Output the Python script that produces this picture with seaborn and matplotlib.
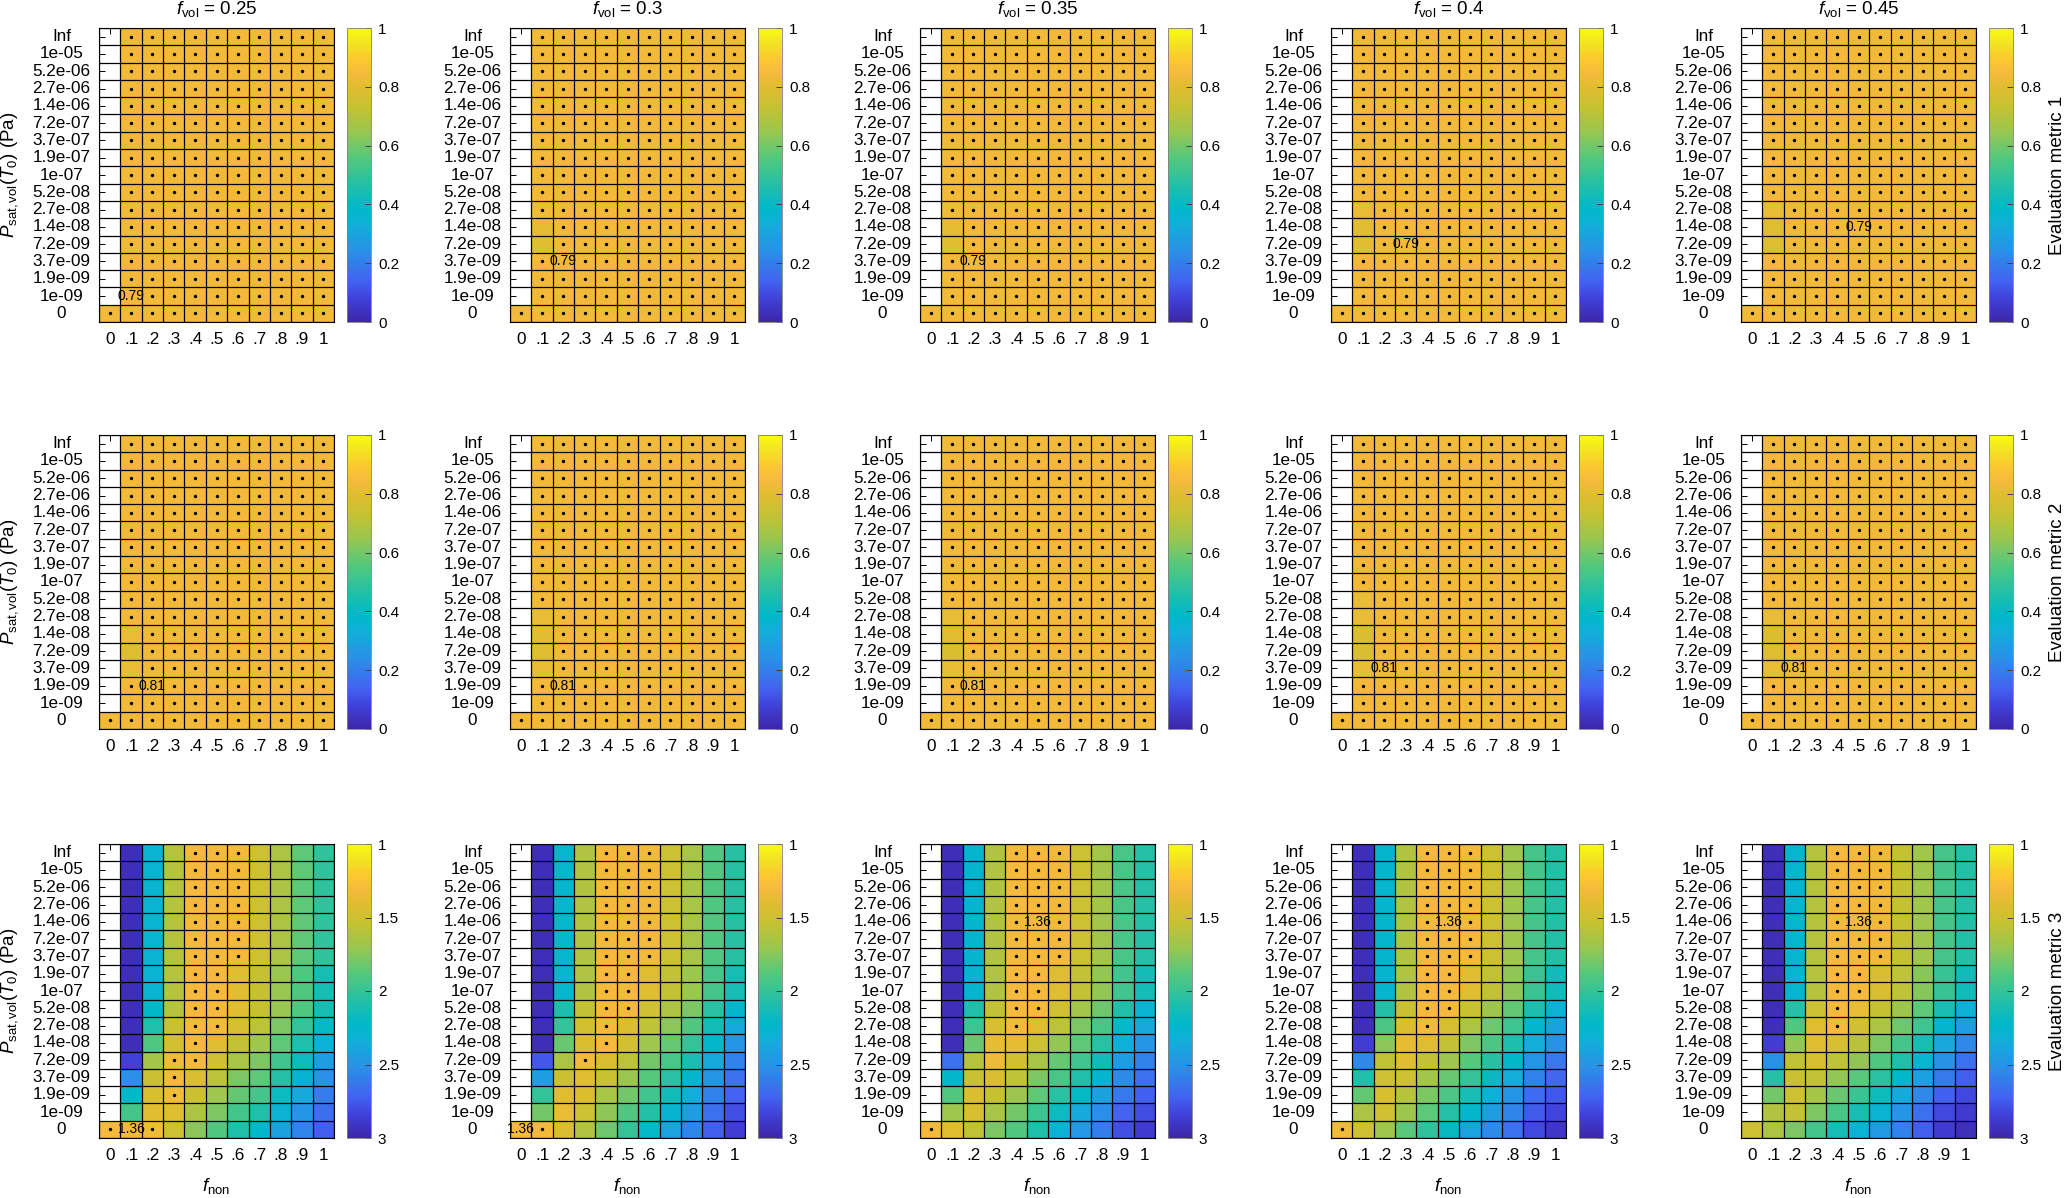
import numpy as np
import pandas as pd
import matplotlib
matplotlib.use('Agg')
import matplotlib.pyplot as plt
import seaborn as sns
from matplotlib.colors import LinearSegmentedColormap

plt.rcParams['font.family'] = ['Liberation Sans', 'DejaVu Sans']
plt.rcParams['mathtext.fontset'] = 'custom'
plt.rcParams['mathtext.rm'] = 'Liberation Sans'
plt.rcParams['mathtext.it'] = 'Liberation Sans:italic'

N = np.nan

# ---------------- data ----------------
F_VOL = [0.25, 0.3, 0.35, 0.4, 0.45]
F_NON = ['0', '.1', '.2', '.3', '.4', '.5', '.6', '.7', '.8', '.9', '1']
P_SAT = ['Inf', '1e-05', '5.2e-06', '2.7e-06', '1.4e-06', '7.2e-07', '3.7e-07',
         '1.9e-07', '1e-07', '5.2e-08', '2.7e-08', '1.4e-08', '7.2e-09',
         '3.7e-09', '1.9e-09', '1e-09', '0']
METRIC_NAMES = ['Evaluation metric 1', 'Evaluation metric 2', 'Evaluation metric 3']

# metrics 1 and 2 are nearly flat: one bulk value, plus the columns that differ
M1_BULK = 0.84
M2_BULK = 0.84
M12_COL0 = [N, N, N, N, N, N, N, N, N, N, N, N, N, N, N, N, 0.84]

M1_VARIED = {
    0.25: {'.1': [0.84, 0.84, 0.84, 0.84, 0.84, 0.84, 0.84, 0.84, 0.84, 0.84, 0.835, 0.835, 0.832, 0.84, 0.84, 0.84, 0.84]},
    0.3: {'.1': [0.84, 0.84, 0.84, 0.84, 0.84, 0.84, 0.84, 0.84, 0.84, 0.84, 0.835, 0.81, 0.80, 0.84, 0.84, 0.84, 0.84]},
    0.35: {'.1': [0.84, 0.84, 0.84, 0.84, 0.84, 0.84, 0.84, 0.84, 0.84, 0.84, 0.835, 0.805, 0.80, 0.84, 0.84, 0.84, 0.84]},
    0.4: {'.1': [0.84, 0.84, 0.84, 0.84, 0.84, 0.84, 0.84, 0.84, 0.84, 0.84, 0.82, 0.80, 0.80, 0.84, 0.84, 0.84, 0.84]},
    0.45: {'.1': [0.84, 0.84, 0.84, 0.84, 0.84, 0.84, 0.84, 0.84, 0.84, 0.84, 0.82, 0.795, 0.79, 0.84, 0.84, 0.84, 0.84],
           '.7': [0.84, 0.835, 0.835, 0.835, 0.835, 0.84, 0.84, 0.84, 0.84, 0.84, 0.84, 0.84, 0.84, 0.84, 0.84, 0.84, 0.84]},
}
M2_VARIED = {
    0.25: {'.1': [0.84, 0.84, 0.84, 0.84, 0.84, 0.84, 0.84, 0.84, 0.84, 0.84, 0.84, 0.815, 0.79, 0.82, 0.84, 0.84, 0.84]},
    0.3: {'.1': [0.84, 0.84, 0.84, 0.84, 0.84, 0.84, 0.84, 0.84, 0.84, 0.84, 0.82, 0.80, 0.79, 0.82, 0.84, 0.84, 0.84]},
    0.35: {'.1': [0.84, 0.84, 0.84, 0.84, 0.84, 0.84, 0.84, 0.84, 0.84, 0.84, 0.82, 0.79, 0.785, 0.82, 0.84, 0.84, 0.84]},
    0.4: {'.1': [0.84, 0.84, 0.84, 0.84, 0.84, 0.84, 0.84, 0.84, 0.84, 0.82, 0.82, 0.78, 0.78, 0.82, 0.84, 0.84, 0.84]},
    0.45: {'.1': [0.84, 0.84, 0.84, 0.84, 0.84, 0.84, 0.84, 0.84, 0.84, 0.84, 0.82, 0.785, 0.79, 0.82, 0.84, 0.84, 0.84]},
}

# metric 3, rows Inf ... 0, columns f_non 0 ... 1
M3_025 = [
    [N, 2.95, 2.28, 1.60, 1.31, 1.31, 1.32, 1.50, 1.64, 1.86, 2.02],
    [N, 2.95, 2.28, 1.60, 1.31, 1.31, 1.32, 1.50, 1.64, 1.86, 2.02],
    [N, 2.95, 2.28, 1.60, 1.31, 1.31, 1.32, 1.50, 1.64, 1.86, 2.02],
    [N, 2.95, 2.28, 1.60, 1.31, 1.31, 1.32, 1.50, 1.64, 1.86, 2.02],
    [N, 2.95, 2.28, 1.60, 1.31, 1.31, 1.32, 1.50, 1.64, 1.86, 2.02],
    [N, 2.95, 2.28, 1.60, 1.31, 1.31, 1.32, 1.50, 1.64, 1.86, 2.02],
    [N, 2.95, 2.28, 1.60, 1.31, 1.31, 1.32, 1.50, 1.64, 1.86, 2.02],
    [N, 2.95, 2.28, 1.60, 1.31, 1.31, 1.40, 1.54, 1.71, 1.90, 2.12],
    [N, 2.95, 2.28, 1.60, 1.31, 1.31, 1.40, 1.54, 1.71, 1.90, 2.12],
    [N, 2.95, 2.22, 1.60, 1.31, 1.31, 1.40, 1.54, 1.71, 1.90, 2.12],
    [N, 2.95, 2.08, 1.53, 1.31, 1.31, 1.46, 1.58, 1.78, 2.00, 2.20],
    [N, 2.95, 1.90, 1.47, 1.31, 1.42, 1.55, 1.68, 1.86, 2.08, 2.32],
    [N, 2.85, 1.66, 1.33, 1.31, 1.48, 1.65, 1.78, 1.96, 2.17, 2.44],
    [N, 2.52, 1.52, 1.33, 1.43, 1.58, 1.78, 1.86, 2.06, 2.27, 2.52],
    [N, 2.22, 1.46, 1.33, 1.52, 1.68, 1.85, 1.95, 2.17, 2.38, 2.60],
    [N, 1.95, 1.40, 1.42, 1.63, 1.78, 1.95, 2.08, 2.30, 2.48, 2.67],
    [1.30, 1.32, 1.33, 1.50, 1.74, 1.90, 2.08, 2.22, 2.42, 2.57, 2.74],
]
M3_030 = [
    [N, 2.95, 2.26, 1.62, 1.31, 1.31, 1.32, 1.51, 1.65, 1.90, 2.05],
    [N, 2.95, 2.26, 1.62, 1.31, 1.31, 1.32, 1.51, 1.65, 1.90, 2.05],
    [N, 2.95, 2.26, 1.62, 1.31, 1.31, 1.32, 1.51, 1.65, 1.90, 2.05],
    [N, 2.95, 2.26, 1.62, 1.31, 1.31, 1.32, 1.51, 1.65, 1.90, 2.05],
    [N, 2.95, 2.26, 1.62, 1.31, 1.31, 1.32, 1.51, 1.65, 1.90, 2.05],
    [N, 2.95, 2.26, 1.62, 1.31, 1.31, 1.32, 1.51, 1.65, 1.90, 2.05],
    [N, 2.95, 2.26, 1.62, 1.31, 1.31, 1.32, 1.51, 1.65, 1.90, 2.05],
    [N, 2.95, 2.26, 1.62, 1.31, 1.31, 1.41, 1.55, 1.70, 1.94, 2.13],
    [N, 2.95, 2.26, 1.62, 1.31, 1.31, 1.41, 1.55, 1.70, 1.94, 2.13],
    [N, 2.95, 2.10, 1.55, 1.31, 1.31, 1.48, 1.64, 1.78, 2.04, 2.24],
    [N, 2.95, 2.00, 1.47, 1.31, 1.43, 1.57, 1.74, 1.90, 2.14, 2.37],
    [N, 2.95, 1.83, 1.43, 1.31, 1.48, 1.68, 1.84, 2.00, 2.24, 2.48],
    [N, 2.76, 1.64, 1.32, 1.44, 1.58, 1.80, 1.93, 2.11, 2.37, 2.58],
    [N, 2.44, 1.52, 1.40, 1.53, 1.71, 1.88, 2.04, 2.23, 2.48, 2.66],
    [N, 2.00, 1.42, 1.43, 1.65, 1.80, 1.96, 2.14, 2.35, 2.58, 2.72],
    [N, 1.80, 1.37, 1.51, 1.73, 1.90, 2.07, 2.27, 2.45, 2.66, 2.79],
    [1.31, 1.32, 1.44, 1.62, 1.82, 2.00, 2.21, 2.41, 2.57, 2.74, 2.86],
]
M3_035 = [
    [N, 2.95, 2.25, 1.62, 1.31, 1.31, 1.32, 1.51, 1.67, 1.93, 2.06],
    [N, 2.95, 2.25, 1.62, 1.31, 1.31, 1.32, 1.51, 1.67, 1.93, 2.06],
    [N, 2.95, 2.25, 1.62, 1.31, 1.31, 1.32, 1.51, 1.67, 1.93, 2.06],
    [N, 2.95, 2.25, 1.62, 1.31, 1.31, 1.32, 1.51, 1.67, 1.93, 2.06],
    [N, 2.95, 2.25, 1.62, 1.31, 1.31, 1.32, 1.51, 1.67, 1.93, 2.06],
    [N, 2.95, 2.25, 1.62, 1.31, 1.31, 1.32, 1.51, 1.67, 1.93, 2.06],
    [N, 2.95, 2.25, 1.62, 1.31, 1.31, 1.32, 1.51, 1.67, 1.93, 2.06],
    [N, 2.95, 2.25, 1.62, 1.31, 1.31, 1.42, 1.55, 1.72, 1.96, 2.14],
    [N, 2.95, 2.25, 1.62, 1.31, 1.31, 1.42, 1.55, 1.72, 1.96, 2.14],
    [N, 2.95, 2.08, 1.55, 1.31, 1.31, 1.49, 1.67, 1.82, 2.08, 2.28],
    [N, 2.95, 1.97, 1.45, 1.31, 1.42, 1.58, 1.78, 1.93, 2.21, 2.38],
    [N, 2.95, 1.83, 1.38, 1.39, 1.51, 1.72, 1.86, 2.04, 2.32, 2.48],
    [N, 2.66, 1.60, 1.34, 1.47, 1.65, 1.83, 1.96, 2.15, 2.44, 2.58],
    [N, 2.24, 1.52, 1.43, 1.57, 1.78, 1.93, 2.08, 2.25, 2.55, 2.66],
    [N, 1.90, 1.44, 1.54, 1.69, 1.86, 2.04, 2.20, 2.42, 2.62, 2.73],
    [N, 1.68, 1.45, 1.65, 1.80, 1.97, 2.17, 2.36, 2.53, 2.72, 2.80],
    [1.31, 1.41, 1.56, 1.78, 1.90, 2.08, 2.29, 2.47, 2.60, 2.79, 2.88],
]
M3_040 = [
    [N, 2.95, 2.25, 1.62, 1.31, 1.31, 1.32, 1.51, 1.68, 1.94, 2.07],
    [N, 2.95, 2.25, 1.62, 1.31, 1.31, 1.32, 1.51, 1.68, 1.94, 2.07],
    [N, 2.95, 2.25, 1.62, 1.31, 1.31, 1.32, 1.51, 1.68, 1.94, 2.07],
    [N, 2.95, 2.25, 1.62, 1.31, 1.31, 1.32, 1.51, 1.68, 1.94, 2.07],
    [N, 2.95, 2.25, 1.62, 1.31, 1.31, 1.32, 1.51, 1.68, 1.94, 2.07],
    [N, 2.95, 2.25, 1.62, 1.31, 1.31, 1.32, 1.51, 1.68, 1.94, 2.07],
    [N, 2.95, 2.25, 1.62, 1.31, 1.31, 1.32, 1.51, 1.68, 1.94, 2.07],
    [N, 2.95, 2.25, 1.62, 1.31, 1.31, 1.42, 1.56, 1.73, 1.98, 2.15],
    [N, 2.95, 2.25, 1.62, 1.31, 1.31, 1.42, 1.56, 1.73, 1.98, 2.15],
    [N, 2.95, 2.07, 1.52, 1.31, 1.31, 1.53, 1.69, 1.85, 2.10, 2.30],
    [N, 2.95, 1.92, 1.43, 1.31, 1.46, 1.64, 1.82, 1.97, 2.23, 2.42],
    [N, 2.86, 1.74, 1.38, 1.42, 1.55, 1.78, 1.92, 2.10, 2.35, 2.50],
    [N, 2.55, 1.56, 1.40, 1.55, 1.69, 1.88, 2.05, 2.22, 2.48, 2.62],
    [N, 2.08, 1.50, 1.50, 1.67, 1.83, 2.00, 2.18, 2.35, 2.58, 2.70],
    [N, 1.85, 1.46, 1.60, 1.78, 1.92, 2.11, 2.31, 2.48, 2.68, 2.76],
    [N, 1.64, 1.48, 1.69, 1.86, 2.06, 2.24, 2.44, 2.57, 2.75, 2.83],
    [1.33, 1.50, 1.68, 1.87, 2.02, 2.18, 2.40, 2.55, 2.66, 2.82, 2.90],
]
M3_045 = [
    [N, 2.95, 2.26, 1.60, 1.31, 1.31, 1.32, 1.54, 1.68, 1.94, 2.07],
    [N, 2.95, 2.26, 1.60, 1.31, 1.31, 1.32, 1.54, 1.68, 1.94, 2.07],
    [N, 2.95, 2.26, 1.60, 1.31, 1.31, 1.32, 1.54, 1.68, 1.94, 2.07],
    [N, 2.95, 2.26, 1.60, 1.31, 1.31, 1.32, 1.54, 1.68, 1.94, 2.07],
    [N, 2.95, 2.26, 1.60, 1.31, 1.31, 1.32, 1.54, 1.68, 1.94, 2.07],
    [N, 2.95, 2.26, 1.60, 1.31, 1.31, 1.32, 1.54, 1.68, 1.94, 2.07],
    [N, 2.95, 2.26, 1.60, 1.31, 1.31, 1.32, 1.54, 1.68, 1.94, 2.07],
    [N, 2.95, 2.26, 1.60, 1.31, 1.31, 1.44, 1.57, 1.75, 1.99, 2.15],
    [N, 2.95, 2.26, 1.60, 1.31, 1.31, 1.44, 1.57, 1.75, 1.99, 2.15],
    [N, 2.95, 2.06, 1.51, 1.31, 1.37, 1.54, 1.69, 1.86, 2.11, 2.30],
    [N, 2.95, 1.90, 1.42, 1.31, 1.48, 1.64, 1.82, 1.97, 2.25, 2.43],
    [N, 2.86, 1.72, 1.41, 1.46, 1.59, 1.78, 1.94, 2.12, 2.38, 2.55],
    [N, 2.50, 1.56, 1.45, 1.57, 1.73, 1.90, 2.08, 2.26, 2.50, 2.66],
    [N, 2.06, 1.52, 1.55, 1.72, 1.87, 2.04, 2.22, 2.42, 2.62, 2.74],
    [N, 1.80, 1.51, 1.66, 1.83, 1.98, 2.16, 2.36, 2.55, 2.73, 2.82],
    [N, 1.62, 1.55, 1.78, 1.93, 2.12, 2.29, 2.48, 2.66, 2.82, 2.88],
    [1.50, 1.64, 1.78, 1.95, 2.13, 2.29, 2.46, 2.58, 2.74, 2.88, 2.94],
]
M3_GRIDS = [M3_025, M3_030, M3_035, M3_040, M3_045]

# best cell per panel (row label, column label) and its printed value
M1_BEST = [('1e-09', '.1'), ('3.7e-09', '.2'), ('3.7e-09', '.2'), ('7.2e-09', '.3'), ('1.4e-08', '.5')]
M2_BEST = [('1.9e-09', '.2'), ('1.9e-09', '.2'), ('1.9e-09', '.2'), ('3.7e-09', '.2'), ('3.7e-09', '.2')]
M3_BEST = [('0', '.1'), ('0', '0'), ('1.4e-06', '.5'), ('1.4e-06', '.5'), ('1.4e-06', '.5')]
BEST_TEXT = ['0.79', '0.81', '1.36']

# cells close to the best get a dot
DOT_MIN_M12 = 0.83
DOT_MAX_M3 = 1.335

CBAR_TICKS = [[0, 0.2, 0.4, 0.6, 0.8, 1], [0, 0.2, 0.4, 0.6, 0.8, 1], [1, 1.5, 2, 2.5, 3]]
CBAR_LABELS = [['0', '0.2', '0.4', '0.6', '0.8', '1'], ['0', '0.2', '0.4', '0.6', '0.8', '1'],
               ['1', '1.5', '2', '2.5', '3']]

# ---------------- style ----------------
parula = LinearSegmentedColormap.from_list('parula', [
    (0.00, '#3e26a8'), (0.075, '#4040d8'), (0.14, '#4264f0'), (0.24, '#2a90e8'),
    (0.335, '#10b0d8'), (0.39, '#00b8c8'), (0.47, '#25c0a5'), (0.56, '#55c87c'),
    (0.65, '#9ac650'), (0.73, '#c5c232'), (0.80, '#e1bd30'), (0.85, '#f6ba3c'),
    (0.90, '#fcca30'), (0.95, '#f3e423'), (1.00, '#f9fb0e')])

W, H = 2067, 1198
COL_LEFT = [99, 510, 920, 1331, 1741]
ROW_TOP = [28, 435, 844]
AX_W, AX_H = 235, 294
CB_DX, CB_W = 248, 24


def flat_grid(bulk, varied):
    df = pd.DataFrame(bulk, index=P_SAT, columns=F_NON)
    df['0'] = M12_COL0
    for col, vals in varied.items():
        df[col] = vals
    return df


fig = plt.figure(figsize=(W / 100, H / 100), dpi=100)

for i in range(3):
    for j, fv in enumerate(F_VOL):
        if i == 0:
            df = flat_grid(M1_BULK, M1_VARIED[fv])
            best = M1_BEST[j]
        elif i == 1:
            df = flat_grid(M2_BULK, M2_VARIED[fv])
            best = M2_BEST[j]
        else:
            df = pd.DataFrame(M3_GRIDS[j], index=P_SAT, columns=F_NON)
            best = M3_BEST[j]

        left, top = COL_LEFT[j], ROW_TOP[i]
        ax = fig.add_axes([left / W, 1 - (top + AX_H) / H, AX_W / W, AX_H / H])
        cax = fig.add_axes([(left + CB_DX) / W, 1 - (top + AX_H) / H, CB_W / W, AX_H / H])

        if i < 2:
            sns.heatmap(df, ax=ax, cbar_ax=cax, cmap=parula, vmin=0, vmax=1,
                        mask=df.isna(), linewidths=0,
                        xticklabels=F_NON, yticklabels=P_SAT)
            dots = (df.values >= DOT_MIN_M12)
        else:
            sns.heatmap(df, ax=ax, cbar_ax=cax, cmap=parula.reversed(), vmin=1, vmax=3,
                        mask=df.isna(), linewidths=0,
                        xticklabels=F_NON, yticklabels=P_SAT)
            dots = (df.values <= DOT_MAX_M3)

        nr, nc = df.shape
        # cell grid
        ax.hlines(np.arange(nr + 1), 0, nc, colors='black', linewidth=0.9, zorder=2)
        ax.vlines(np.arange(nc + 1), 0, nr, colors='black', linewidth=0.9, zorder=2)

        br, bc = P_SAT.index(best[0]), F_NON.index(best[1])
        dots[br, bc] = False
        ys, xs = np.where(dots)
        ax.scatter(xs + 0.5, ys + 0.5, s=6, c='black', linewidths=0, zorder=3)
        ax.text(bc + 0.5, br + 0.5, BEST_TEXT[i], ha='center', va='center',
                fontsize=10, zorder=4)

        ax.set_xlim(0, nc)
        ax.set_ylim(nr, 0)
        ax.set_axisbelow(True)
        for sp in ax.spines.values():
            sp.set_visible(True)
            sp.set_linewidth(0.8)
            sp.set_color('black')
            sp.set_zorder(5)
        ax.tick_params(direction='in', length=4, width=0.7, color='black',
                       top=True, right=True, labelsize=12.3)
        ax.tick_params(axis='y', pad=27)
        ax.tick_params(axis='x', pad=7)
        plt.setp(ax.get_yticklabels(), rotation=0, ha='center')
        plt.setp(ax.get_xticklabels(), rotation=0)
        ax.set_xlabel('')
        ax.set_ylabel('')

        cb = ax.collections[0].colorbar
        cb.set_ticks(CBAR_TICKS[i])
        cb.set_ticklabels(CBAR_LABELS[i])
        cb.outline.set_linewidth(0.6)
        cb.outline.set_edgecolor('#808080')
        cax.tick_params(direction='in', length=4, width=0.7, color='#404040',
                        labelsize=11, pad=5)
        if i == 2:
            cax.invert_yaxis()

        cy = 1 - (top + AX_H / 2) / H
        if i == 0:
            ax.set_title(r'$f_{\mathrm{vol}}$ = ' + f'{fv:g}', fontsize=13.5, pad=10)
        if j == 0:
            fig.text(10 / W, cy, r'$P_{\mathrm{sat,vol}}(T_0)$ (Pa)', rotation=90,
                     ha='center', va='center', fontsize=13.5)
        if i == 2:
            fig.text((left + AX_W / 2) / W, 1 - (top + AX_H + 48) / H,
                     r'$f_{\mathrm{non}}$', ha='center', va='center', fontsize=13.5)
        if j == 4:
            fig.text(2057 / W, cy, METRIC_NAMES[i], rotation=90,
                     ha='center', va='center', fontsize=13.5)

fig.savefig('out.png', dpi=100)
